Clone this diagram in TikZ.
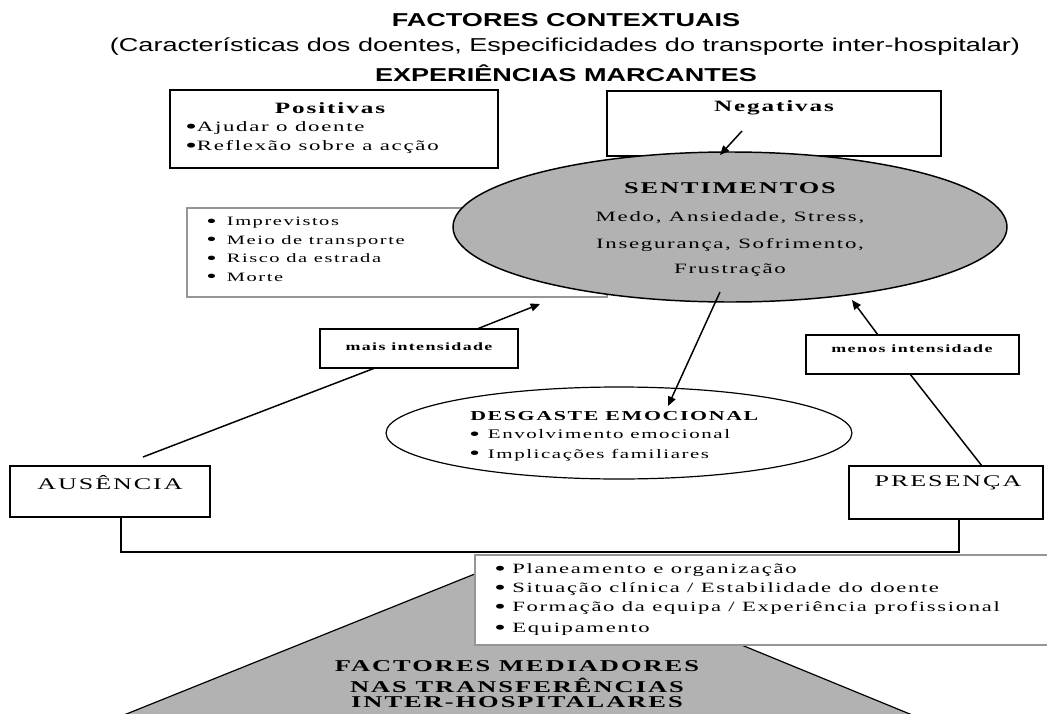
\documentclass[tikz,border=0pt]{standalone}
\usepackage{fontspec}
\setmainfont{Liberation Serif}
\newfontfamily\arx{Liberation Sans}[FakeStretch=1.45]
\newfontfamily\tmx{Liberation Serif}[FakeStretch=1.6,LetterSpace=12]
\usetikzlibrary{arrows.meta,fit,shapes.geometric}
\definecolor{shade}{RGB}{178,178,178}
\definecolor{lgray}{RGB}{150,150,150}
\newcommand{\bigbul}{\smash{\raisebox{-0.13em}{\scalebox{1.45}{•}}}}
\tikzset{
  box/.style={draw, line width=1.1pt, inner sep=0pt, fill=white},
  gbox/.style={draw=lgray, line width=0.8pt, inner sep=0pt, fill=white},
  conn/.style={line width=1.1pt},
  arr/.style={conn, -{Triangle[length=7pt,width=6pt]}},
  ttl/.style={inner sep=0pt, font=\arx\bfseries\fontsize{14}{16}\selectfont},
  sub/.style={inner sep=0pt, font=\arx\fontsize{14}{16}\selectfont},
  tx/.style={inner sep=0pt, font=\tmx\fontsize{#1}{#1}\selectfont},
  tb/.style={inner sep=0pt, font=\tmx\bfseries\fontsize{#1}{#1}\selectfont},
}
\begin{document}
\begin{tikzpicture}[x=0.75pt,y=-0.75pt]
\useasboundingbox (0,0) rectangle (1047,714);
\begin{scope}
\clip (0,0) rectangle (1047,714);
\fill[white] (0,0) rectangle (1047,714);

% titles
\node[ttl] (t1) at (566,20) {FACTORES CONTEXTUAIS};
\node[sub] (t2) at (565,47) {(Características dos doentes, Especificidades do transporte inter-hospitalar)};
\node[ttl] (t3) at (566,73) {EXPERIÊNCIAS MARCANTES};

% positivas
\node[box, fit={(170,90) (498,168)}] (pos) {};
\node[tb=11.8] (posT) at (330,108) {Positivas};
\node[tx=10.7, anchor=west] (pos1) at (185,128) {\bigbul Ajudar o doente};
\node[tx=10.7, anchor=west] (pos2) at (185,147) {\bigbul Reflexão sobre a acção};

% negativas
\node[box, fit={(607,91) (941,156)}] (neg) {};
\node[tb=11.8] (negT) at (774,108) {Negativas};

% imprevistos
\node[gbox, fit={(187,208) (607,297)}] (imp) {};
\node[tx=9.6, anchor=west] (i1) at (206,223) {\makebox[15.5pt][l]{\bigbul}Imprevistos};
\node[tx=9.6, anchor=west] (i2) at (206,241) {\makebox[15.5pt][l]{\bigbul}Meio de transporte};
\node[tx=9.6, anchor=west] (i3) at (206,258) {\makebox[15.5pt][l]{\bigbul}Risco da estrada};
\node[tx=9.6, anchor=west] (i4) at (206,277) {\makebox[15.5pt][l]{\bigbul}Morte};

% sentimentos
\node[ellipse, draw, line width=1.1pt, fill=shade, minimum width=415.5pt, minimum height=112.5pt, inner sep=0pt] (sent) at (730,227) {};
\node[tb=12.3] (sT) at (730,188) {SENTIMENTOS};
\node[tx=10.7] (s1) at (730,218) {Medo, Ansiedade, Stress,};
\node[tx=10.7] (s2) at (730,245) {Insegurança, Sofrimento,};
\node[tx=10.7] (s3) at (730,270) {Frustração};

% intensity boxes
\node[box, fit={(320,329) (518,368)}] (mais) {};
\node[tb=8.4] (maisT) at (419,347) {mais intensidade};
\node[box, fit={(806,335) (1019,374)}] (menos) {};
\node[tb=8.4] (menosT) at (912,349) {menos intensidade};

% ausencia / presenca
\node[box, fit={(10,466) (210,517)}] (aus) {};
\node[tx=12.2] (ausT) at (110,483) {AUSÊNCIA};
\node[box, fit={(849,466) (1043,519)}] (pres) {};
\node[tx=12.2] (presT) at (948,483) {PRESENÇA};

% desgaste
\node[ellipse, draw, line width=0.9pt, fill=white, minimum width=349.5pt, minimum height=69pt, inner sep=0pt] (desg) at (619,433) {};
\node[tb=10.25, anchor=west] (dT) at (470,416) {DESGASTE EMOCIONAL};
\node[tx=9.8, anchor=west] (d1) at (469,434) {\makebox[14pt][l]{\bigbul}Envolvimento emocional};
\node[tx=9.8, anchor=west] (d2) at (469,455) {\makebox[14pt][l]{\bigbul}Implicações familiares};

% connectors
\coordinate (n1) at (742,131);
\coordinate (n2) at (720,155);
\draw[arr] (n1) -- (n2);
\coordinate (s1a) at (720,292);
\coordinate (d0) at (668,406);
\draw[arr] (s1a) -- (d0);
\coordinate (a0) at (143,457);
\coordinate (m0) at (375,368);
\draw[conn] (a0) -- (m0);
\coordinate (m1) at (477,329);
\coordinate (e1) at (540,304);
\draw[arr] (m1) -- (e1);
\coordinate (p0) at (982,466);
\coordinate (q0) at (910,374);
\draw[conn] (p0) -- (q0);
\coordinate (q1) at (878,335);
\coordinate (e2) at (852,300);
\draw[arr] (q1) -- (e2);

% bracket
\coordinate (b1) at (121,552);
\coordinate (b2) at (959,552);
\draw[conn] (aus.south -| b1) -- (b1) -- (b2) -- (pres.south -| b2);

% triangle
\draw[line width=0.9pt, fill=shade] (522,555) -- (1022,760) -- (12,760) -- cycle;
\node[gbox, fit={(475,555) (1060,645)}] (plan) {};
\node[tx=10.6, anchor=west] (p1) at (494,570) {\makebox[13.5pt][l]{\bigbul}Planeamento e organização};
\node[tx=10.6, anchor=west] (p2) at (494,589) {\makebox[13.5pt][l]{\bigbul}Situação clínica / Estabilidade do doente};
\node[tx=10.6, anchor=west] (p3) at (494,608) {\makebox[13.5pt][l]{\bigbul}Formação da equipa / Experiência profissional};
\node[tx=10.6, anchor=west] (p4) at (494,629) {\makebox[13.5pt][l]{\bigbul}Equipamento};
\node[tb=12.4] (f1) at (517,666) {FACTORES MEDIADORES};
\node[tb=12.4] (f2) at (517,685) {NAS TRANSFERÊNCIAS};
\node[tb=12.4] (f3) at (517,702) {INTER-HOSPITALARES};
\end{scope}
\end{tikzpicture}
\end{document}
